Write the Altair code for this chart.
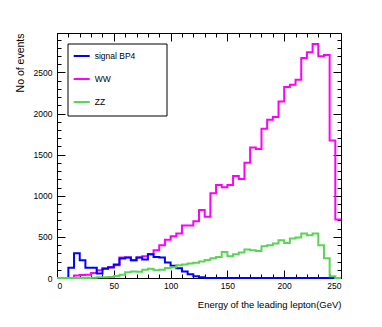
import altair as alt
import pandas as pd

# ---- data (5 GeV bins, 0..250 GeV) ----
bin_edges = list(range(0, 255, 5))  # 51 edges
signal_bp4 = [0, 0, 125, 300, 216, 125, 125, 55, 114, 127,
              163, 236, 250, 216, 249, 224, 289, 256, 249, 190,
              150, 118, 80, 45, 20, 8, 0, 0, 0, 0,
              0, 0, 0, 0, 0, 0, 0, 0, 0, 0,
              0, 0, 0, 0, 0, 0, 0, 0, 0, 0]
ww = [0, 0, 0, 30, 35, 41, 60, 95, 120, 134,
      155, 249, 249, 216, 249, 265, 290, 338, 399, 465,
      509, 541, 639, 639, 690, 826, 744, 1030, 1131, 1103,
      1131, 1241, 1204, 1403, 1586, 1570, 1814, 1924, 1957, 2147,
      2323, 2351, 2411, 2677, 2745, 2847, 2696, 2713, 1671, 712]
zz = [0, 0, 0, 0, 0, 0, 3, 8, 10, 12,
      25, 40, 70, 80, 75, 100, 114, 94, 100, 122,
      130, 155, 165, 175, 185, 200, 220, 240, 256, 315,
      265, 290, 310, 346, 338, 329, 386, 399, 419, 460,
      427, 480, 492, 541, 521, 541, 399, 240, 20, 0]
series_names = ["signal BP4", "WW", "ZZ"]
series_colors = ["#0000ff", "#ff00ff", "#59d454"]
x_major = [0, 50, 100, 150, 200, 250]
x_minor = list(range(0, 251, 10))
y_major = [0, 500, 1000, 1500, 2000, 2500]
y_minor = list(range(0, 2901, 100))

rows = []
for name, vals in zip(series_names, [signal_bp4, ww, zz]):
    padded = vals + [vals[-1]]
    for e, v in zip(bin_edges, padded):
        rows.append({"series": name, "energy": e, "events": v})
df = pd.DataFrame(rows)

FONT = "Liberation Sans"
xs = alt.Scale(domain=[0, 250], nice=False, zero=False)
ys = alt.Scale(domain=[0, 2980], nice=False)
color = alt.Color(
    "series:N",
    scale=alt.Scale(domain=series_names, range=series_colors),
    legend=alt.Legend(
        title=None, orient="none", legendX=15.7, legendY=14,
        symbolType="stroke", symbolSize=256, symbolStrokeWidth=2,
        labelFont=FONT, labelFontSize=8.5, labelColor="black",
        rowPadding=9, padding=0, labelOffset=4,
    ),
)


def axis(orient, values, size, labels=False, title=None, tsize=9.5, **kw):
    return alt.Axis(
        orient=orient, values=values, tickSize=size, offset=-size,
        domain=False, grid=False, ticks=True, tickColor="black", tickWidth=1,
        labels=labels, title=title, format="d", labelFont=FONT, labelFontSize=8.5,
        labelColor="black", titleFont=FONT, titleFontSize=tsize,
        titleFontWeight="normal", titleColor="black", **kw,
    )


base = alt.Chart(df)

box = alt.Chart(pd.DataFrame({"a": [0]})).mark_rect(
    fill="white", stroke="black", strokeWidth=1
).encode(x=alt.value(11), x2=alt.value(110), y=alt.value(11), y2=alt.value(83))

l_ww = base.transform_filter(alt.datum.series == "WW").mark_line(
    interpolate="step-after", strokeWidth=2
).encode(
    x=alt.X("energy:Q", scale=xs, axis=axis(
        "bottom", x_major, 8, labels=True, title="Energy of the leading lepton(GeV)",
        labelPadding=3, titleAnchor="end", titlePadding=10)),
    y=alt.Y("events:Q", scale=ys, axis=axis(
        "left", y_major, 8, labels=True, title="No of events", tsize=10.5,
        labelPadding=5, titleAnchor="end", titlePadding=8)),
    color=color,
)
l_sig = base.transform_filter(alt.datum.series == "signal BP4").mark_line(
    interpolate="step-after", strokeWidth=2
).encode(
    x=alt.X("energy:Q", scale=xs, axis=axis("bottom", x_minor, 4)),
    y=alt.Y("events:Q", scale=ys, axis=axis("left", y_minor, 4)),
    color=color,
)
l_zz = base.transform_filter(alt.datum.series == "ZZ").mark_line(
    interpolate="step-after", strokeWidth=2
).encode(
    x=alt.X("energy:Q", scale=xs, axis=axis("top", x_major, 8)),
    y=alt.Y("events:Q", scale=ys, axis=axis("right", y_major, 8)),
    color=color,
)
l_ghost = base.transform_filter(alt.datum.series == "WW").mark_line(
    strokeOpacity=0
).encode(
    x=alt.X("energy:Q", scale=xs, axis=axis("top", x_minor, 4)),
    y=alt.Y("events:Q", scale=ys, axis=axis("right", y_minor, 4)),
)

chart = alt.layer(box, l_ww, l_sig, l_zz, l_ghost).resolve_axis(
    x="independent", y="independent"
).properties(
    width=284, height=245,
    autosize=alt.AutoSizeParams(type="none"),
    padding={"left": 49, "top": 25, "right": 33, "bottom": 41},
    background="white",
).configure_view(stroke="black", strokeWidth=1)

chart.save("out.html", embed_options={"renderer": "svg", "actions": False})
